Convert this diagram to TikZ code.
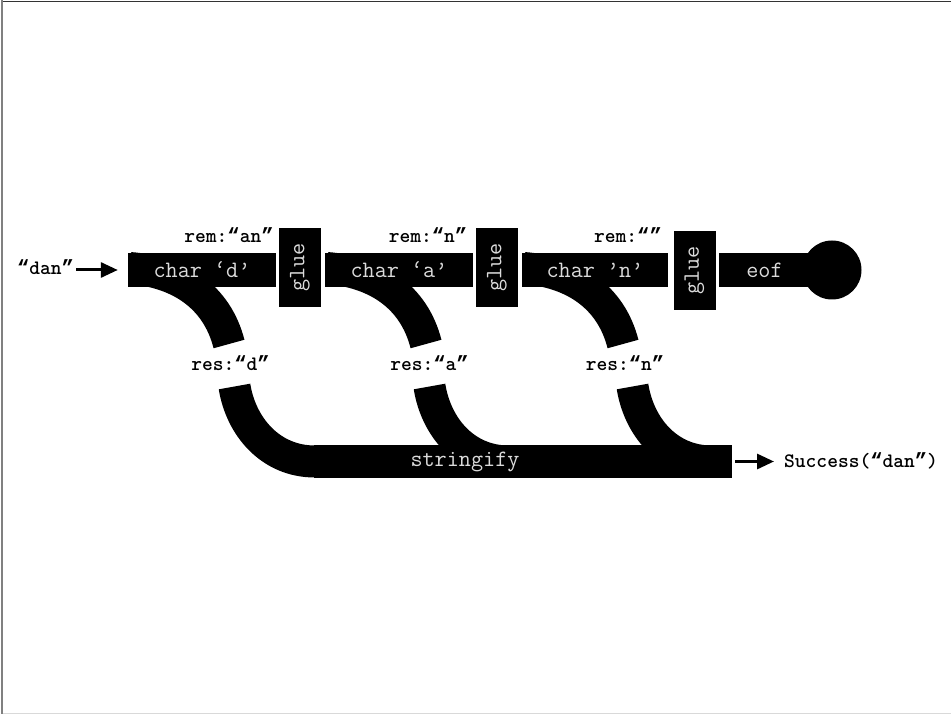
\documentclass[tikz,border=0pt]{standalone}
\usepackage{fontspec}
\newfontfamily\quotefont{Liberation Mono}
\usetikzlibrary{arrows.meta,backgrounds}
\definecolor{inktext}{gray}{0.86}
\definecolor{frameleft}{gray}{0.5}
\definecolor{frametop}{gray}{0.2}
\definecolor{framebottom}{gray}{0.85}
\newcommand{\stagefont}{\fontsize{23.5}{23.5}\selectfont\ttfamily}
\newcommand{\tagfont}{\fontsize{20.5}{20.5}\selectfont\ttfamily\bfseries}
% curly double quotes around a string literal
\newcommand{\dquoted}[1]{{\quotefont “}#1{\quotefont ”}}
\begin{document}
\begin{tikzpicture}[x=1pt,y=-1pt,
  stage/.style={fill=black, text=inktext, font=\stagefont, inner sep=0pt, minimum height=34pt},
  gluebox/.style={fill=black, text=inktext, font=\stagefont, inner sep=0pt, rotate=90,
                  minimum width=79pt, minimum height=42pt},
  tag/.style={font=\tagfont, text=black, inner sep=0pt},
  band/.style={draw=black, line width=32pt, line cap=butt},
  flow/.style={draw=black, line width=3pt, -{Triangle[length=17pt,width=15pt]}}
]
\useasboundingbox (0,0) rectangle (951,714);

% slide frame
\fill[frameleft] (0.7,0) rectangle (2.7,714);
\fill[frametop] (2.7,1) rectangle (951,2.4);
\fill[framebottom] (2.7,712.8) rectangle (951,714);

% parser chain
\node[stage, minimum width=148pt] (chard) at (202,270) {char ‘d’};
\node[gluebox] (glue1) at (300,267.5) {glue};
\node[stage, minimum width=148pt] (chara) at (399,270) {char ‘a’};
\node[gluebox] (glue2) at (497,267.5) {glue};
\node[stage, minimum width=146pt] (charn) at (595,270) {char ’n’};
\node[gluebox] (glue3) at (694.5,270.5) {glue};
\node[stage, minimum width=91pt] (eof) at (764.5,270) {eof};
\node[circle, fill=black, minimum size=59pt, inner sep=0pt] (done) at (832,270) {};

% remaining input
\node[tag, anchor=base] (remd) at (229,243) {rem:\dquoted{an}};
\node[tag, anchor=base] (rema) at (428,243) {rem:\dquoted{n}};
\node[tag, anchor=base] (remn) at (628,243) {rem:\dquoted{}};

% results
\node[tag, anchor=base] (resd) at (230.5,370) {res:\dquoted{d}};
\node[tag, anchor=base] (resa) at (429.5,370) {res:\dquoted{a}};
\node[tag, anchor=base] (resn) at (625,370) {res:\dquoted{n}};

% stringify bar
\node[fill=black, minimum width=418pt, minimum height=33pt, inner sep=0pt] (bar) at (523,461.5) {};
\node[text=inktext, font=\stagefont, inner sep=0pt] (stringify) at (465,461.5) {stringify};

% input and output
\node[tag, anchor=base] (input) at (45.5,275) {\dquoted{dan}};
\node[tag, anchor=base west] (success) at (784,467) {Success(\dquoted{dan})};
\draw[flow, shorten <=2pt, shorten >=10pt] (input.east |- chard.west) -- (chard.west);
\draw[flow, shorten <=3pt, shorten >=10pt] (bar.east) -- (bar.east -| success.west);

% result bands
\coordinate (dout) at (229,344);
\coordinate (aout) at (426,344);
\coordinate (nout) at (623,344);
\coordinate (din) at (234.5,386.5);
\coordinate (ain) at (429.5,386.5);
\coordinate (nin) at (632.5,386.5);
\begin{pgfonlayer}{background}
  \draw[band] ([shift={(2,-2)}]chard.west) .. controls +(50,4) and +(-12,-47) .. (dout);
  \draw[band] ([shift={(2,-2)}]chara.west) .. controls +(50,4) and +(-12,-47) .. (aout);
  \draw[band] ([shift={(2,-2)}]charn.west) .. controls +(50,4) and +(-12,-47) .. (nout);
  \draw[band] (din) .. controls +(6.5,40.5) and +(-44,0) .. ([xshift=1pt]bar.west);
  \draw[band] (ain) .. controls +(6.5,40.5) and +(-44,0) .. ([xshift=195pt]bar.west);
  \draw[band] (nin) .. controls +(6.5,40.5) and +(-44,0) .. ([xshift=398pt]bar.west);
\end{pgfonlayer}
\end{tikzpicture}
\end{document}
